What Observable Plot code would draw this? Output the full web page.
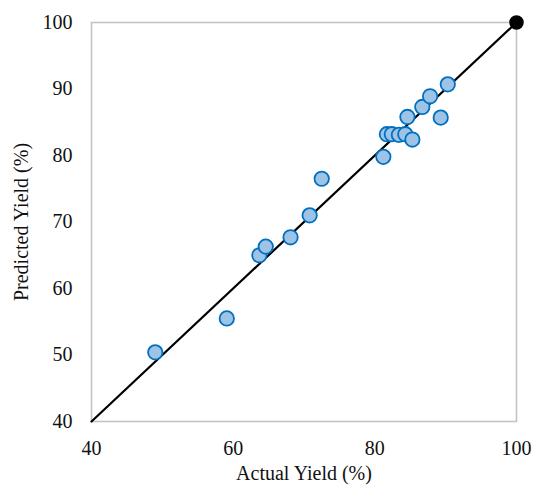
<!DOCTYPE html>
<html>
<head>
<meta charset="utf-8">
<script src="https://cdn.jsdelivr.net/npm/d3@7"></script>
<script src="https://cdn.jsdelivr.net/npm/@observablehq/plot@0.6"></script>
<style>
  html, body { margin: 0; padding: 0; background: #fff; }
  svg text { font-family: 'Liberation Serif', 'Times New Roman', serif; font-size: 20px; }
</style>
</head>
<body>
<div id="chart"></div>
<script>
const actual =    [49.0, 59.1, 63.7, 64.6, 68.1, 70.8, 72.5, 81.2, 81.7, 82.4, 83.4, 84.3, 85.3, 84.6, 89.3, 86.7, 87.8, 90.3];
const predicted = [50.4, 55.5, 65.0, 66.3, 67.7, 71.0, 76.5, 79.8, 83.2, 83.2, 83.1, 83.2, 82.4, 85.8, 85.7, 87.3, 88.9, 90.7];
const lineX = [40, 100];
const lineY = [40, 100];
const refX = [100];
const refY = [100];
const xTicks = [40, 60, 80, 100];
const yTicks = [40, 50, 60, 70, 80, 90, 100];

const points = actual.map((a, i) => ({a, p: predicted[i]}));
const line = lineX.map((x, i) => ({x, y: lineY[i]}));
const ref = refX.map((x, i) => ({x, y: refY[i]}));

const chart = Plot.plot({
  width: 534,
  height: 487,
  marginLeft: 91,
  marginRight: 18,
  marginTop: 22,
  marginBottom: 66,
  style: {fontFamily: "'Liberation Serif', 'Times New Roman', serif", fontSize: "20px", color: "#111", background: "#fff"},
  x: {domain: [40, 100], ticks: xTicks, label: "Actual Yield (%)", labelAnchor: "center", labelArrow: "none", labelOffset: 58, tickSize: 0, tickPadding: 19},
  y: {domain: [40, 100], ticks: yTicks, label: "Predicted Yield (%)", labelAnchor: "center", labelArrow: "none", labelOffset: 78, tickSize: 0, tickPadding: 19},
  marks: [
    Plot.frame({stroke: "#c4c4c4", strokeWidth: 1.6}),
    Plot.line(line, {x: "x", y: "y", stroke: "#000", strokeWidth: 2.2}),
    Plot.dot(points, {x: "a", y: "p", r: 7.2, fill: "#9dc3e6", stroke: "#0070c0", strokeWidth: 1.8}),
    Plot.dot(ref, {x: "x", y: "y", r: 6.5, fill: "#000", stroke: "#000"})
  ]
});
document.getElementById("chart").appendChild(chart);
</script>
</body>
</html>
